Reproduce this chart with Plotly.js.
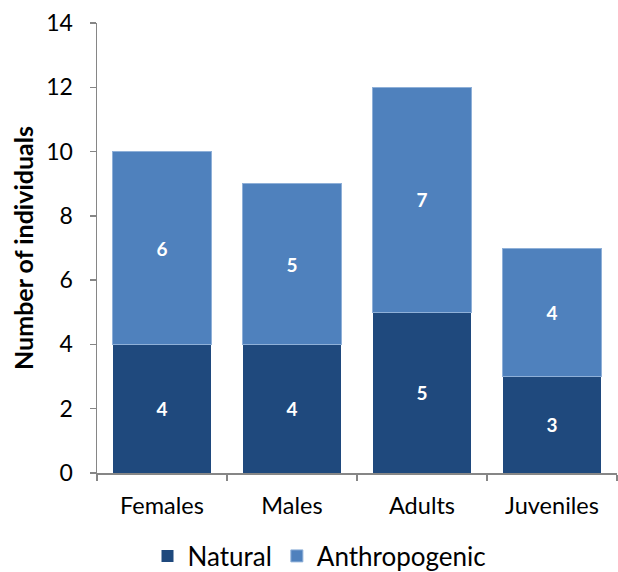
<!DOCTYPE html>
<html>
<head>
<meta charset="utf-8">
<script src="https://cdn.plot.ly/plotly-3.0.1.min.js"></script>
<style>html,body{margin:0;padding:0;background:#fff;}#chart{width:618px;height:572px;}</style>
</head>
<body>
<div id="chart"></div>
<script>
var categories = ["Females", "Males", "Adults", "Juveniles"];
var naturalValues = [4, 4, 5, 3];
var anthropogenicValues = [6, 5, 7, 4];
var yTicks = [0, 2, 4, 6, 8, 10, 12, 14];

var font = "Lato, 'Open Sans', sans-serif";
var traces = [
  {
    type: "bar", name: "Natural", x: categories, y: naturalValues,
    text: naturalValues.map(String), textposition: "inside", insidetextanchor: "middle",
    textfont: {family: font, size: 19, color: "#ffffff", weight: "bold"},
    marker: {color: "#1f497d", line: {color: "#1f497d", width: 0}},
    hoverinfo: "skip"
  },
  {
    type: "bar", name: "Anthropogenic", x: categories, y: anthropogenicValues,
    text: anthropogenicValues.map(String), textposition: "inside", insidetextanchor: "middle",
    textfont: {family: font, size: 19, color: "#ffffff", weight: "bold"},
    marker: {color: "#4f81bd", line: {color: "#8fb0d8", width: 1}},
    hoverinfo: "skip"
  }
];
var layout = {
  width: 618, height: 572,
  margin: {l: 97, r: 1, t: 23, b: 99, autoexpand: false},
  barmode: "stack", bargap: 0.24,
  paper_bgcolor: "#ffffff", plot_bgcolor: "#ffffff",
  font: {family: font, size: 22, color: "#000000"},
  showlegend: true,
  legend: {orientation: "h", xref: "container", x: 0.517, xanchor: "center", yref: "container", y: 0.028, yanchor: "middle",
           font: {family: font, size: 26, color: "#000000"}, itemwidth: 30, traceorder: "normal"},
  xaxis: {
    type: "category", showline: true, linecolor: "#868686", linewidth: 1.5,
    ticks: "outside", tickson: "boundaries", ticklen: 6, tickcolor: "#868686", tickwidth: 1.5,
    showgrid: false, zeroline: false, tickfont: {family: font, size: 23.5}, ticklabelstandoff: 11,
    automargin: false
  },
  yaxis: {
    range: [0, 14], tickvals: yTicks, ticktext: yTicks.map(String),
    showline: true, linecolor: "#868686", linewidth: 1.5,
    ticks: "outside", ticklen: 6, tickcolor: "#868686", tickwidth: 1.5,
    showgrid: false, zeroline: false, tickfont: {family: font, size: 23}, ticklabelstandoff: 12,
    automargin: false,
    title: {text: "Number of individuals", font: {family: font, size: 25, weight: "bold"}, standoff: 5}
  }
};
Plotly.newPlot("chart", traces, layout, {displayModeBar: false, staticPlot: true});
</script>
</body>
</html>
